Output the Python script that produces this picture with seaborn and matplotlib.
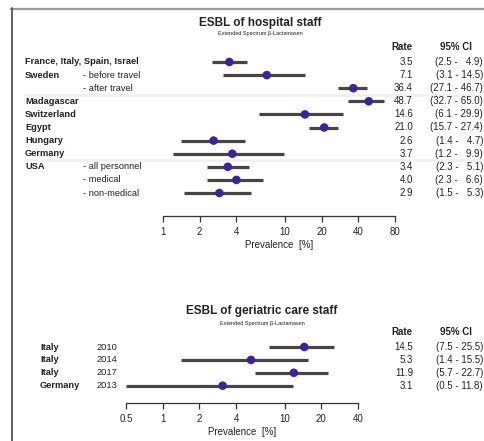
import matplotlib
matplotlib.use("Agg")
import matplotlib.pyplot as plt
import matplotlib.transforms as mtransforms
from matplotlib.lines import Line2D
import numpy as np
import pandas as pd
import seaborn as sns

sns.set_theme(style="white")
plt.rcParams['font.family'] = ['Liberation Sans Narrow', 'Liberation Sans', 'DejaVu Sans']

# ---- hospital staff ----
hospital_groups = ["France, Italy, Spain, Israel", "Sweden", "", "Madagascar", "Switzerland",
                   "Egypt", "Hungary", "Germany", "USA", "", ""]
hospital_subgroups = ["", "- before travel", "- after travel", "", "", "", "", "",
                      "- all personnel", "- medical", "- non-medical"]
hospital_rate = [3.5, 7.1, 36.4, 48.7, 14.6, 21.0, 2.6, 3.7, 3.4, 4.0, 2.9]
hospital_lo = [2.5, 3.1, 27.1, 32.7, 6.1, 15.7, 1.4, 1.2, 2.3, 2.3, 1.5]
hospital_hi = [4.9, 14.5, 46.7, 65.0, 29.9, 27.4, 4.7, 9.9, 5.1, 6.6, 5.3]
hospital_ticks = [1, 2, 4, 10, 20, 40, 80]
hospital_breaks = [2.5, 7.5]

# ---- geriatric care staff ----
geriatric_countries = ["Italy", "Italy", "Italy", "Germany"]
geriatric_years = ["2010", "2014", "2017", "2013"]
geriatric_rate = [14.5, 5.3, 11.9, 3.1]
geriatric_lo = [7.5, 1.4, 5.7, 0.5]
geriatric_hi = [25.5, 15.5, 22.7, 11.8]
geriatric_ticks = [0.5, 1, 2, 4, 10, 20, 40]

W, H = 484, 441
POINT = "#3b22a0"
LINE = "#454545"
TEXT = "#222222"
LABEL_SIZE = 6.7

fig = plt.figure(figsize=(W / 100, H / 100), dpi=100)
fig.patch.set_facecolor("white")


def fx(px):
    return px / W


def fy(py):
    return 1 - py / H


def ci_text(lo, hi):
    hs = f"{hi:.1f}"
    pad = "  " if hi < 10 else ""
    return f"({lo:.1f} - {pad}{hs})"


def forest(left, right, top, bottom, row0, step, rate, lo, hi, ticks, xmin, xmax):
    ax = fig.add_axes([fx(left), fy(bottom), fx(right - left), (bottom - top) / H])
    n = len(rate)
    df = pd.DataFrame({"rate": rate, "lo": lo, "hi": hi, "row": np.arange(n)})
    ax.hlines(df["row"], df["lo"], df["hi"], color=LINE, lw=2.3, zorder=2)
    sns.scatterplot(data=df, x="rate", y="row", ax=ax, color=POINT, s=38,
                    edgecolor="none", zorder=3, legend=False)
    ax.set_xscale("log")
    ax.set_xlim(xmin, xmax)
    ax.set_ylim((bottom - row0) / step, (top - row0) / step)
    ax.set_xticks(ticks)
    ax.set_xticklabels([f"{t:g}" for t in ticks], fontsize=7, color=TEXT)
    ax.xaxis.set_minor_locator(matplotlib.ticker.NullLocator())
    ax.tick_params(axis="x", direction="out", length=4, width=0.9, color="#333333",
                   pad=4, bottom=True)
    ax.set_yticks([])
    ax.set_xlabel("Prevalence  [%]", fontsize=7, color=TEXT, labelpad=2)
    ax.set_ylabel("")
    for s in ["left", "right", "top"]:
        ax.spines[s].set_visible(False)
    ax.spines["bottom"].set_color("#333333")
    ax.spines["bottom"].set_linewidth(0.9)
    ax.patch.set_alpha(0)
    trans = mtransforms.blended_transform_factory(fig.transFigure, ax.transData)
    return ax, trans


# ---------- upper panel ----------
ax1, tr1 = forest(163, 395, 55, 216, 62, 13.1, hospital_rate, hospital_lo, hospital_hi,
                  hospital_ticks, 1, 80)
fig.text(fx(260), fy(23), "ESBL of hospital staff", ha="center", va="center",
         fontsize=8.5, fontweight="bold", color=TEXT, family=["Liberation Sans", "DejaVu Sans"])
fig.text(fx(260), fy(34), "Extended Spectrum β-Lactamasen", ha="center", va="center",
         fontsize=4, color=TEXT, family=["Liberation Sans", "DejaVu Sans"])
fig.text(fx(413), fy(47), "Rate", ha="right", va="center", fontsize=7,
         fontweight="bold", color=TEXT)
fig.text(fx(456), fy(47), "95% CI", ha="center", va="center", fontsize=7,
         fontweight="bold", color=TEXT)
for i in range(len(hospital_rate)):
    if hospital_groups[i]:
        ax1.text(fx(25), i, hospital_groups[i], transform=tr1, ha="left", va="center",
                 fontsize=LABEL_SIZE, fontweight="bold", color=TEXT)
    if hospital_subgroups[i]:
        ax1.text(fx(83), i, hospital_subgroups[i], transform=tr1, ha="left", va="center",
                 fontsize=LABEL_SIZE, color=TEXT)
    ax1.text(fx(413), i, f"{hospital_rate[i]:.1f}", transform=tr1, ha="right",
             va="center", fontsize=7, color=TEXT)
    ax1.text(fx(483), i, ci_text(hospital_lo[i], hospital_hi[i]), transform=tr1,
             ha="right", va="center", fontsize=7, color=TEXT)
for b in hospital_breaks:
    ax1.add_line(Line2D([fx(25), fx(480)], [b, b], transform=tr1, color="#efefef",
                        lw=1.8, zorder=0, clip_on=False))

# ---------- lower panel ----------
ax2, tr2 = forest(126, 358, 335, 403, 347, 12.9, geriatric_rate, geriatric_lo, geriatric_hi,
                  geriatric_ticks, 0.5, 40)
fig.text(fx(262), fy(311), "ESBL of geriatric care staff", ha="center", va="center",
         fontsize=8.5, fontweight="bold", color=TEXT, family=["Liberation Sans", "DejaVu Sans"])
fig.text(fx(262), fy(323), "Extended Spectrum β-Lactamasen", ha="center", va="center",
         fontsize=4, color=TEXT, family=["Liberation Sans", "DejaVu Sans"])
fig.text(fx(413), fy(332), "Rate", ha="right", va="center", fontsize=7,
         fontweight="bold", color=TEXT)
fig.text(fx(456), fy(332), "95% CI", ha="center", va="center", fontsize=7,
         fontweight="bold", color=TEXT)
for i in range(len(geriatric_rate)):
    ax2.text(fx(40), i, geriatric_countries[i], transform=tr2, ha="left", va="center",
             fontsize=LABEL_SIZE, fontweight="bold", color=TEXT)
    ax2.text(fx(117), i, geriatric_years[i], transform=tr2, ha="right", va="center",
             fontsize=LABEL_SIZE, color=TEXT)
    ax2.text(fx(413), i, f"{geriatric_rate[i]:.1f}", transform=tr2, ha="right",
             va="center", fontsize=7, color=TEXT)
    ax2.text(fx(483), i, ci_text(geriatric_lo[i], geriatric_hi[i]), transform=tr2,
             ha="right", va="center", fontsize=7, color=TEXT)

# frame lines along the top and left edge
fig.add_artist(Line2D([fx(11), 1], [fy(8.5), fy(8.5)], color="#9a9a9a", lw=1.6))
fig.add_artist(Line2D([fx(11.5), fx(11.5)], [fy(8), 0], color="#555555", lw=1.3))

fig.savefig("out.png", dpi=100, facecolor="white")
